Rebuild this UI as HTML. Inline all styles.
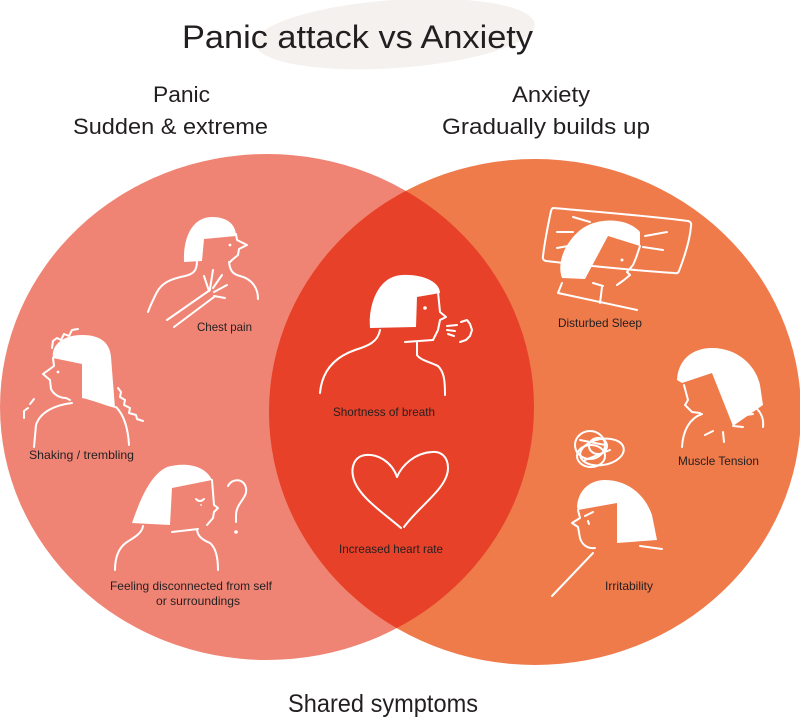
<!DOCTYPE html>
<html>
<head>
<meta charset="utf-8">
<style>
html,body{margin:0;padding:0;background:#fff;}
svg{display:block;}
text{font-family:"Liberation Sans",sans-serif;fill:#231f20;}
.w{fill:none;stroke:#fff;stroke-width:2;stroke-linecap:round;stroke-linejoin:round;}
.h{fill:#fff;stroke:none;}
</style>
</head>
<body>
<svg width="800" height="719" viewBox="0 0 800 719" xmlns="http://www.w3.org/2000/svg">
<defs>
<clipPath id="rc"><ellipse cx="535" cy="412" rx="266" ry="253"/></clipPath>
</defs>
<rect width="800" height="719" fill="#fff"/>
<!-- title blob -->
<ellipse cx="395" cy="34" rx="140" ry="34" transform="rotate(-4 395 34)" fill="#f4f1ef"/>
<text x="182" y="48" font-size="32" textLength="351" lengthAdjust="spacingAndGlyphs">Panic attack vs Anxiety</text>

<text x="153" y="102" font-size="22" textLength="57" lengthAdjust="spacingAndGlyphs">Panic</text>
<text x="73" y="134" font-size="22" textLength="195" lengthAdjust="spacingAndGlyphs">Sudden &amp; extreme</text>
<text x="512" y="102" font-size="22" textLength="78" lengthAdjust="spacingAndGlyphs">Anxiety</text>
<text x="442" y="134" font-size="22" textLength="208" lengthAdjust="spacingAndGlyphs">Gradually builds up</text>

<!-- circles -->
<ellipse cx="267" cy="407" rx="267" ry="253" fill="#f08474"/>
<ellipse cx="535" cy="412" rx="266" ry="253" fill="#ef7a4a"/>
<ellipse cx="267" cy="407" rx="267" ry="253" fill="#e84129" clip-path="url(#rc)"/>

<!-- Chest pain -->
<path class="h" d="M184,262 C183,238 192,217 212,217 C229,217 236,226 236,236 L204,239 L202,261 Z"/>
<path class="w" d="M236,234 L237,240 L247,245 L239,249 L238,255 L232,260 L230,262"/>
<path class="w" d="M229,262 C230,270 232,274 240,276 C252,279 258,288 258,299"/>
<path class="w" d="M197,261 C197,270 194,274 185,276 C170,279 162,283 157,292 C153,300 150,306 148,312"/>
<path class="w" d="M167,320 L210,290 M174,327 L214,297"/>
<path class="w" stroke-width="2.5" d="M209,291 L204,276 M210,289 L213,270 M213,288 L222,275 M214,292 L227,285 M214,296 L225,298"/>
<circle cx="230" cy="245" r="1.4" fill="#fff"/>
<text x="197" y="331" font-size="12" textLength="55" lengthAdjust="spacingAndGlyphs">Chest pain</text>

<!-- Shaking -->
<path class="h" d="M53,358 C51,345 63,335 82,335 C102,335 110,344 111,357 L115,408 C104,405 92,400 82,398 L82,364 Z"/>
<path class="w" d="M53,358 L54,366 L43,374 L50,380 L51,389 C54,395 60,398 66,398 L70,400"/>
<path class="w" d="M72,403 C55,405 40,412 36,425 L34,447"/>
<path class="w" d="M116,407 C124,415 128,428 129,445"/>
<path class="w" d="M52,348 L53,341 L57,338 L61,340 L64,334 L69,336 L72,330 L78,329"/>
<path class="w" d="M118,388 L121,392 L120,397 L125,400 L124,405 L130,408 L129,413 L136,415 L137,419 L143,421"/>
<path class="w" d="M24,418 L24,411 L28,408 M30,404 L34,399"/>
<circle cx="58" cy="372" r="1.4" fill="#fff"/>
<text x="29" y="459" font-size="12" textLength="105" lengthAdjust="spacingAndGlyphs">Shaking / trembling</text>

<!-- Feeling disconnected -->
<path class="h" d="M132,523 C140,500 150,475 167,467 C185,462 205,465 212,480 L172,488 L170,525 Z"/>
<path class="w" d="M212,480 L214,505 L218,508 L214,512 L213,518 L207,525"/>
<path class="w" d="M172,532 L198,529"/>
<path class="w" d="M197,530 C198,537 203,540 210,543 C216,548 218,558 218,570"/>
<path class="w" d="M143,526 C142,533 135,537 127,542 C118,548 115,558 115,570"/>
<path class="w" d="M228,486 C232,478 244,478 246,488 C248,498 236,503 236,515 L236,522"/>
<circle cx="236" cy="532" r="1.8" fill="#fff"/>
<path class="w" stroke-width="1.3" d="M196,499 Q200,503 204,499"/>
<circle cx="201" cy="505" r="0.9" fill="#fff"/>
<text x="110" y="590" font-size="12" textLength="162" lengthAdjust="spacingAndGlyphs">Feeling disconnected from self</text>
<text x="156" y="605" font-size="12" textLength="84" lengthAdjust="spacingAndGlyphs">or surroundings</text>

<!-- Shortness of breath -->
<path class="h" d="M370,328 C368,305 378,276 402,275 C425,274 440,283 440,293 L417,297 L416,327 Z"/>
<path class="w" d="M438,292 L440,312 L446,317 L440,320 L438,330 L433,340"/>
<path class="w" d="M405,342 L433,340"/>
<path class="w" d="M417,342 L417,355 C420,360 430,362 438,366 C444,372 445,380 445,395"/>
<path class="w" d="M380,330 C378,342 368,346 355,350 C335,357 322,370 320,393"/>
<circle cx="425" cy="308" r="1.8" fill="#fff"/>
<path class="w" stroke-width="1.5" d="M447,326 L457,325 M447,330 L455,331 M448,334 L454,336"/>
<path class="w" stroke-width="2.6" d="M461,322 L467,320 L470,324 L472,330 L470,336 L466,340 L460,342"/>
<text x="333" y="416" font-size="12" textLength="102" lengthAdjust="spacingAndGlyphs">Shortness of breath</text>

<!-- Heart -->
<path class="w" d="M397,477 C392,462 378,454 366,455 C354,456 350,468 354,480 C360,498 385,514 401,528"/>
<path class="w" d="M404,527 C420,505 448,488 448,468 C448,456 440,451 432,452 C415,453 402,465 397,477"/>
<text x="339" y="553" font-size="12" textLength="104" lengthAdjust="spacingAndGlyphs">Increased heart rate</text>

<!-- Disturbed Sleep -->
<path class="w" d="M553,208 C600,212 650,216 688,221 Q692,222 691,226 C690,240 684,258 679,271 Q678,274 674,273 C630,270 590,266 546,261 Q542,260 543,256 C545,240 548,225 551,211 Q552,208 553,208 Z"/>
<path class="w" stroke-width="1.5" d="M573,217 L590,222 M557,232 L573,232 M557,248 L568,246 M645,236 L667,232 M643,247 L663,250"/>
<path class="h" d="M562,278 C556,262 566,240 583,228 C600,217 628,218 640,232 L640,246 L608,236 L585,279 Z"/>
<path class="w" d="M640,246 L636,258 L633,265 L627,272 L630,275 L624,280 L617,285"/>
<path class="w" d="M593,283 L603,286 M602,287 L600,303"/>
<path class="w" d="M562,283 L558,293 L637,310"/>
<circle cx="622" cy="260" r="1.5" fill="#fff"/>
<text x="558" y="327" font-size="12" textLength="84" lengthAdjust="spacingAndGlyphs">Disturbed Sleep</text>

<!-- Muscle Tension -->
<path class="h" d="M677,380 C678,360 692,348 712,348 C738,348 756,366 760,385 L763,405 L733,426 L712,373 L682,383 Z"/>
<path class="w" d="M684,385 L688,400 L685,405 L692,412 L700,413"/>
<path class="w" d="M702,414 C690,418 683,430 682,447"/>
<path class="w" d="M755,407 C761,412 764,418 763,427"/>
<path class="w" stroke-width="1.6" d="M733,417 L753,414 M733,426 L743,427 M705,435 L713,431 M723,432 L724,442"/>
<text x="678" y="465" font-size="12" textLength="81" lengthAdjust="spacingAndGlyphs">Muscle Tension</text>

<!-- Irritability -->
<g class="w" stroke-width="1.6">
<ellipse cx="590" cy="445" rx="15" ry="14"/>
<ellipse cx="602" cy="452" rx="22" ry="13" transform="rotate(-10 602 452)"/>
<ellipse cx="591" cy="456" rx="14" ry="11"/>
<ellipse cx="598" cy="446" rx="9" ry="8"/>
<path d="M580,440 L605,445 M585,460 L610,450"/>
</g>
<path class="h" d="M577,507 C578,490 590,480 605,480 C628,480 645,495 652,515 L657,540 L617,543 L617,503 L578,510 Z"/>
<path class="w" d="M578,510 L580,518 L572,523 L578,527 L580,538 C582,545 588,549 595,548"/>
<path class="w" d="M640,546 L662,549"/>
<path class="w" d="M593,553 L552,596"/>
<path class="w" stroke-width="1.4" d="M585,516 L593,512 M588,521 L589,524"/>
<text x="605" y="590" font-size="12" textLength="48" lengthAdjust="spacingAndGlyphs">Irritability</text>

<text x="288" y="712" font-size="25" textLength="190" lengthAdjust="spacingAndGlyphs">Shared symptoms</text>
</svg>
</body>
</html>
